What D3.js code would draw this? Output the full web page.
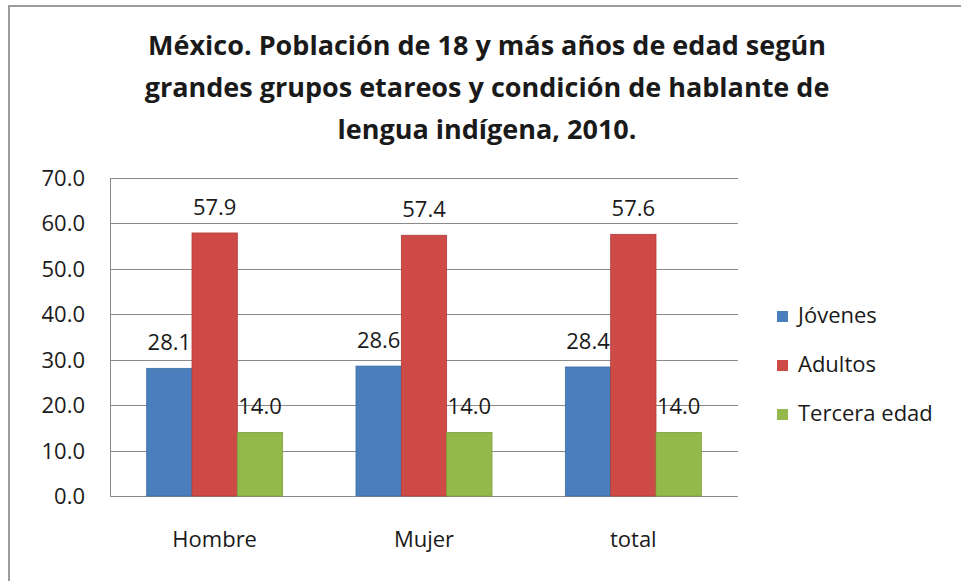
<!DOCTYPE html>
<html>
<head>
	<meta charset="utf-8">
	<title></title>
	<script src="https://d3js.org/d3.v7.min.js"></script>
	<style>
		body { margin: 0; background: #fff; }
		text { font-family: "Open Sans", "Lato", sans-serif; fill: #1a1a1a; }
	</style>
</head>
<body>

<script>

var width = 961
var height = 581

// data
var categories = ['Hombre', 'Mujer', 'total']
var seriesNames = ['Jóvenes', 'Adultos', 'Tercera edad']
var jovenes = [28.1, 28.6, 28.4]
var adultos = [57.9, 57.4, 57.6]
var tercera = [14.0, 14.0, 14.0]
var yTicks = [0, 10, 20, 30, 40, 50, 60, 70]
var titleLines = [
	'México. Población de 18 y más años de edad según',
	'grandes grupos etareos y condición de hablante de',
	'lengua indígena, 2010.'
]

var colors = ['#4a7ebd', '#cd4a47', '#93b94a']
var strokes = ['#3d6ca6', '#b03c3a', '#7ea03c']

var values = [jovenes, adultos, tercera]

var svg = d3.select('body').append('svg')
	.attr('width', width)
	.attr('height', height)

// chart area border
svg.append('rect')
	.attr('x', 9).attr('y', 6)
	.attr('width', 980).attr('height', 600)
	.attr('fill', 'none')
	.attr('stroke', '#9c9c9c')
	.attr('stroke-width', 2)

// title
svg.append('g')
	.selectAll('text')
	.data(titleLines)
	.enter().append('text')
	.attr('x', 487)
	.attr('y', function(d, i) { return 55 + i * 42 })
	.attr('text-anchor', 'middle')
	.style('font-size', '27px')
	.style('font-weight', 'bold')
	.text(function(d) { return d })

var plotLeft = 110, plotRight = 738, plotTop = 178, plotBottom = 496
var groupWidth = 136

var x0 = d3.scaleBand()
	.domain(categories)
	.range([plotLeft, plotRight])

var x1 = d3.scaleBand()
	.domain(seriesNames)
	.range([0, groupWidth])

var y = d3.scaleLinear()
	.domain([0, 70])
	.range([plotBottom, plotTop])

// gridlines
svg.append('g')
	.selectAll('line')
	.data(yTicks)
	.enter().append('line')
	.attr('x1', plotLeft).attr('x2', plotRight)
	.attr('y1', function(d) { return Math.round(y(d)) + 0.5 })
	.attr('y2', function(d) { return Math.round(y(d)) + 0.5 })
	.attr('stroke', '#8a8a8a')
	.attr('stroke-width', 1)

// y axis line
svg.append('line')
	.attr('x1', plotLeft + 0.5).attr('x2', plotLeft + 0.5)
	.attr('y1', plotTop).attr('y2', plotBottom + 1)
	.attr('stroke', '#8a8a8a')

// y tick labels
svg.append('g')
	.selectAll('text')
	.data(yTicks)
	.enter().append('text')
	.attr('x', 85)
	.attr('y', function(d) { return y(d) + 8 })
	.attr('text-anchor', 'end')
	.style('font-size', '22px')
	.text(function(d) { return d3.format('.1f')(d) })

// bars
var groups = svg.append('g')
	.selectAll('g')
	.data(categories)
	.enter().append('g')
	.attr('transform', function(d) { return 'translate(' + (x0(d) + (x0.bandwidth() - groupWidth) / 2) + ',0)' })

seriesNames.forEach(function(s, si) {
	groups.append('rect')
		.attr('x', x1(s))
		.attr('y', function(d, ci) { return y(values[si][ci]) })
		.attr('width', x1.bandwidth())
		.attr('height', function(d, ci) { return plotBottom - y(values[si][ci]) })
		.attr('fill', colors[si])
		.attr('stroke', strokes[si])
		.attr('stroke-width', 0.8)
})

seriesNames.forEach(function(s, si) {
	groups.append('text')
		.attr('x', x1(s) + x1.bandwidth() / 2)
		.attr('y', function(d, ci) { return y(values[si][ci]) - 18 })
		.attr('text-anchor', 'middle')
		.style('font-size', '22px')
		.text(function(d, ci) { return d3.format('.1f')(values[si][ci]) })
})

// category labels
svg.append('g')
	.selectAll('text')
	.data(categories)
	.enter().append('text')
	.attr('x', function(d) { return x0(d) + x0.bandwidth() / 2 })
	.attr('y', 547)
	.attr('text-anchor', 'middle')
	.style('font-size', '22px')
	.text(function(d) { return d })

// legend
var legend = svg.append('g')
	.selectAll('g')
	.data(seriesNames)
	.enter().append('g')
	.attr('transform', function(d, i) { return 'translate(777,' + (323 + i * 49) + ')' })

legend.append('rect')
	.attr('x', 0).attr('y', -12)
	.attr('width', 11).attr('height', 11)
	.attr('fill', function(d, i) { return colors[i] })

legend.append('text')
	.attr('x', 21)
	.attr('y', 0)
	.style('font-size', '22px')
	.text(function(d) { return d })

</script>

</body>
</html>
